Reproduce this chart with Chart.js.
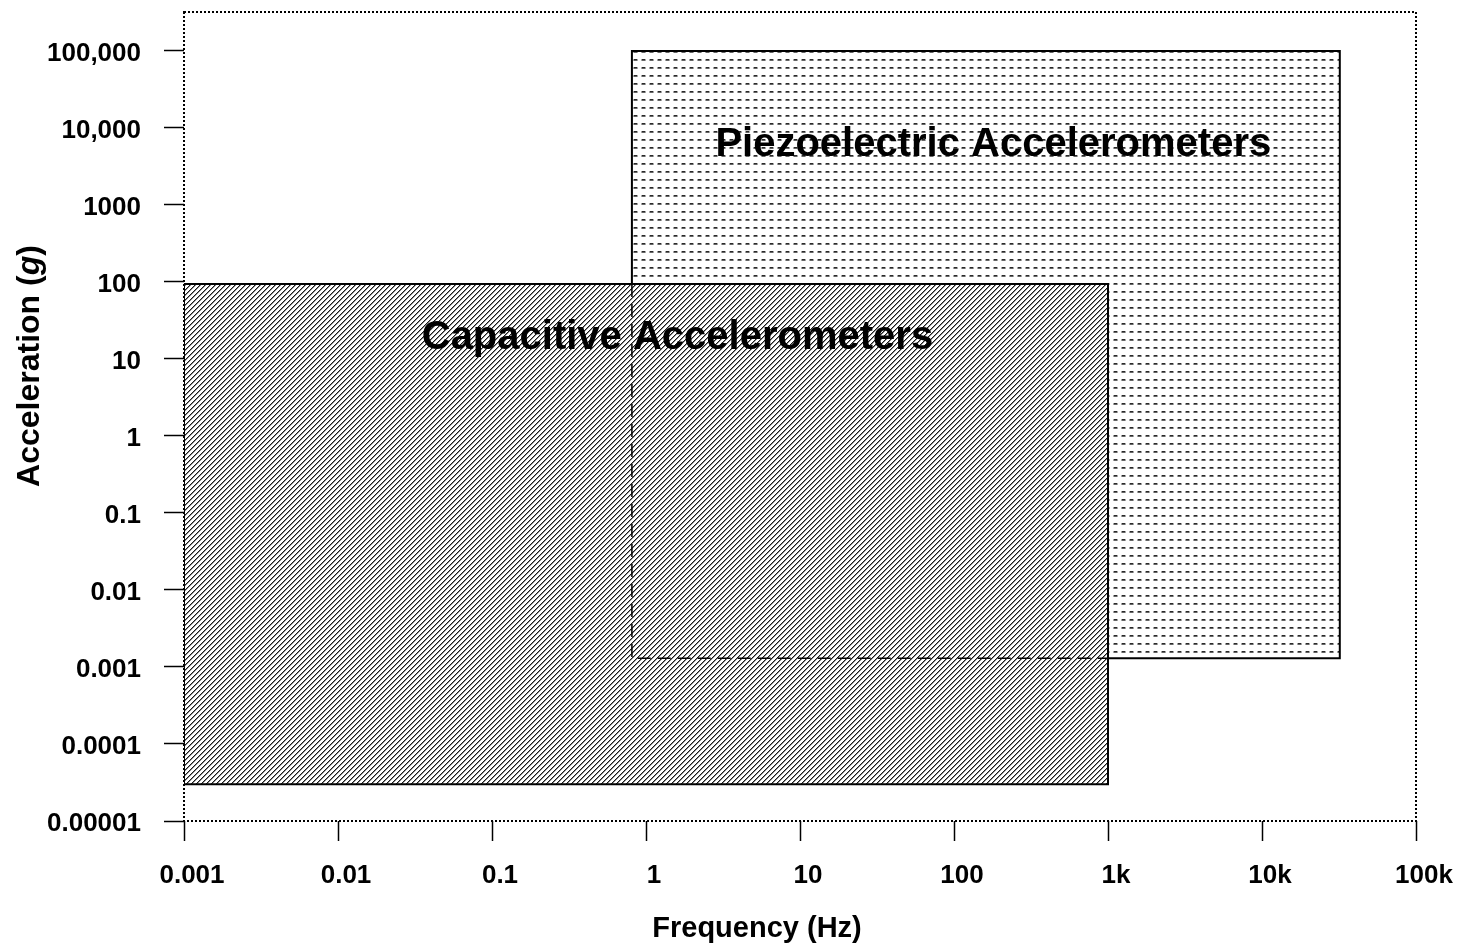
<!DOCTYPE html>
<html>
<head>
<meta charset="utf-8">
<script src="https://cdn.jsdelivr.net/npm/chart.js@4.4.1/dist/chart.umd.min.js"></script>
<style>
  html, body { margin: 0; padding: 0; background: #fff; }
  #wrap { width: 1466px; height: 945px; }
</style>
</head>
<body>
<div id="wrap"><canvas id="rangeChart" width="1466" height="945"></canvas></div>
<script>
// tick values and labels
var xTicks = [0.001, 0.01, 0.1, 1, 10, 100, 1000, 10000, 100000];
var xTickLabels = ['0.001', '0.01', '0.1', '1', '10', '100', '1k', '10k', '100k'];
var yTicks = [0.00001, 0.0001, 0.001, 0.01, 0.1, 1, 10, 100, 1000, 10000, 100000];
var yTickLabels = ['0.00001', '0.0001', '0.001', '0.01', '0.1', '1', '10', '100', '1000', '10,000', '100,000'];

// ranges: [low, high]
var piezoFreq = [0.81, 32000];
var piezoAccel = [0.0013, 100000];
var capFreq = [0.001, 1000];
var capAccel = [0.00003, 94];

var piezoName = 'Piezoelectric Accelerometers';
var capName = 'Capacitive Accelerometers';
var piezoLabelAt = [180, 6000];
var capLabelAt = [1.6, 18.7];

var FONT = '"Liberation Sans", Arial, sans-serif';

function box(f, a) {
  return [
    {x: f[0], y: a[0]}, {x: f[1], y: a[0]},
    {x: f[1], y: a[1]}, {x: f[0], y: a[1]}, {x: f[0], y: a[0]}
  ];
}

// fill patterns
function dashPattern() {
  var c = document.createElement('canvas');
  c.width = 8; c.height = 8;
  var g = c.getContext('2d');
  g.fillStyle = '#fff'; g.fillRect(0, 0, 8, 8);
  g.fillStyle = '#aaa'; g.fillRect(1, 3, 1, 2); g.fillRect(5, 3, 1, 2);
  g.fillStyle = '#2a2a2a'; g.fillRect(2, 3, 3, 1);
  g.fillStyle = '#666'; g.fillRect(2, 4, 3, 1);
  return g.createPattern(c, 'repeat');
}
function hatchPattern() {
  var c = document.createElement('canvas');
  c.width = 5; c.height = 5;
  var g = c.getContext('2d');
  g.fillStyle = '#fff'; g.fillRect(0, 0, 5, 5);
  for (var i = 0; i < 5; i++) {
    g.fillStyle = '#1a1a1a'; g.fillRect((4 - i + 5) % 5, i, 1, 1);
    g.fillStyle = '#8a8a8a'; g.fillRect((5 - i + 5) % 5, i, 1, 1);
  }
  return g.createPattern(c, 'repeat');
}

var decor = {
  id: 'decor',
  beforeDatasetsDraw: function(chart) {
    var ctx = chart.ctx, a = chart.chartArea;
    ctx.save();
    ctx.strokeStyle = '#000';
    ctx.lineWidth = 2;
    ctx.setLineDash([2, 2]);
    ctx.strokeRect(a.left, a.top, a.right - a.left, a.bottom - a.top);
    ctx.restore();
  },
  afterDatasetsDraw: function(chart) {
    var ctx = chart.ctx, xs = chart.scales.x, ys = chart.scales.y;
    ctx.save();
    ctx.fillStyle = '#000';
    ctx.font = 'bold 40px ' + FONT;
    ctx.textAlign = 'center';
    ctx.textBaseline = 'middle';
    ctx.fillText(piezoName, xs.getPixelForValue(piezoLabelAt[0]), ys.getPixelForValue(piezoLabelAt[1]));
    ctx.fillText(capName, xs.getPixelForValue(capLabelAt[0]), ys.getPixelForValue(capLabelAt[1]));
    ctx.restore();
  },
  afterDraw: function(chart) {
    var ctx = chart.ctx;
    ctx.save();
    ctx.fillStyle = '#000';
    ctx.textBaseline = 'middle';
    ctx.textAlign = 'center';
    ctx.font = 'bold 29px ' + FONT;
    ctx.fillText('Frequency (Hz)', 757, 929);
    // y title with italic g
    ctx.translate(30, 366);
    ctx.rotate(-Math.PI / 2);
    var f = 'bold 32px ' + FONT;
    var parts = [['Acceleration (', f], ['g', 'italic ' + f], [')', f]];
    var total = 0;
    parts.forEach(function(p) { ctx.font = p[1]; total += ctx.measureText(p[0]).width; });
    var x = -total / 2;
    ctx.textAlign = 'left';
    parts.forEach(function(p) { ctx.font = p[1]; ctx.fillText(p[0], x, 0); x += ctx.measureText(p[0]).width; });
    ctx.restore();
  }
};

var ctx = document.getElementById('rangeChart').getContext('2d');
var rangeChart = new Chart(ctx, {
  type: 'scatter',
  data: {
    datasets: [{
      label: piezoName,
      data: box(piezoFreq, piezoAccel),
      showLine: true,
      fill: 'shape',
      backgroundColor: dashPattern(),
      borderColor: '#000',
      borderWidth: 2,
      pointRadius: 0,
      tension: 0,
      order: 3
    }, {
      label: capName,
      data: box(capFreq, capAccel),
      showLine: true,
      fill: 'shape',
      backgroundColor: hatchPattern(),
      borderColor: '#000',
      borderWidth: 2,
      pointRadius: 0,
      tension: 0,
      order: 2
    }, {
      label: 'overlap',
      data: [
        {x: piezoFreq[0], y: capAccel[1]},
        {x: piezoFreq[0], y: piezoAccel[0]},
        {x: capFreq[1], y: piezoAccel[0]}
      ],
      showLine: true,
      fill: false,
      borderColor: '#000',
      borderWidth: 1.5,
      borderDash: [13, 7],
      pointRadius: 0,
      tension: 0,
      order: 1
    }]
  },
  options: {
    responsive: false,
    animation: false,
    layout: { padding: { top: 12, right: 50, left: 0, bottom: 0 } },
    scales: {
      x: {
        type: 'logarithmic',
        min: 0.001,
        max: 100000,
        afterFit: function(s) { s.height = 124; s.paddingLeft = 0; s.paddingRight = 0; },
        afterBuildTicks: function(s) { s.ticks = xTicks.map(function(v) { return {value: v}; }); },
        border: { display: false },
        grid: { drawOnChartArea: false, drawTicks: true, tickLength: 20, color: '#000', tickWidth: 1.5 },
        ticks: {
          color: '#000',
          font: { family: FONT, size: 26, weight: 'bold' },
          padding: 19,
          labelOffset: 8,
          maxRotation: 0,
          autoSkip: false,
          callback: function(v, i) { return xTickLabels[i]; }
        }
      },
      y: {
        type: 'logarithmic',
        min: 0.00001,
        max: 320000,
        afterFit: function(s) { s.width = 184; s.paddingTop = 0; s.paddingBottom = 0; },
        afterBuildTicks: function(s) { s.ticks = yTicks.map(function(v) { return {value: v}; }); },
        border: { display: false },
        grid: { drawOnChartArea: false, drawTicks: true, tickLength: 20, color: '#000', tickWidth: 1.5 },
        ticks: {
          color: '#000',
          font: { family: FONT, size: 26, weight: 'bold' },
          padding: 23,
          labelOffset: 3,
          autoSkip: false,
          callback: function(v, i) { return yTickLabels[i]; }
        }
      }
    },
    plugins: {
      legend: { display: false },
      tooltip: { enabled: false }
    }
  },
  plugins: [decor]
});
</script>
</body>
</html>
